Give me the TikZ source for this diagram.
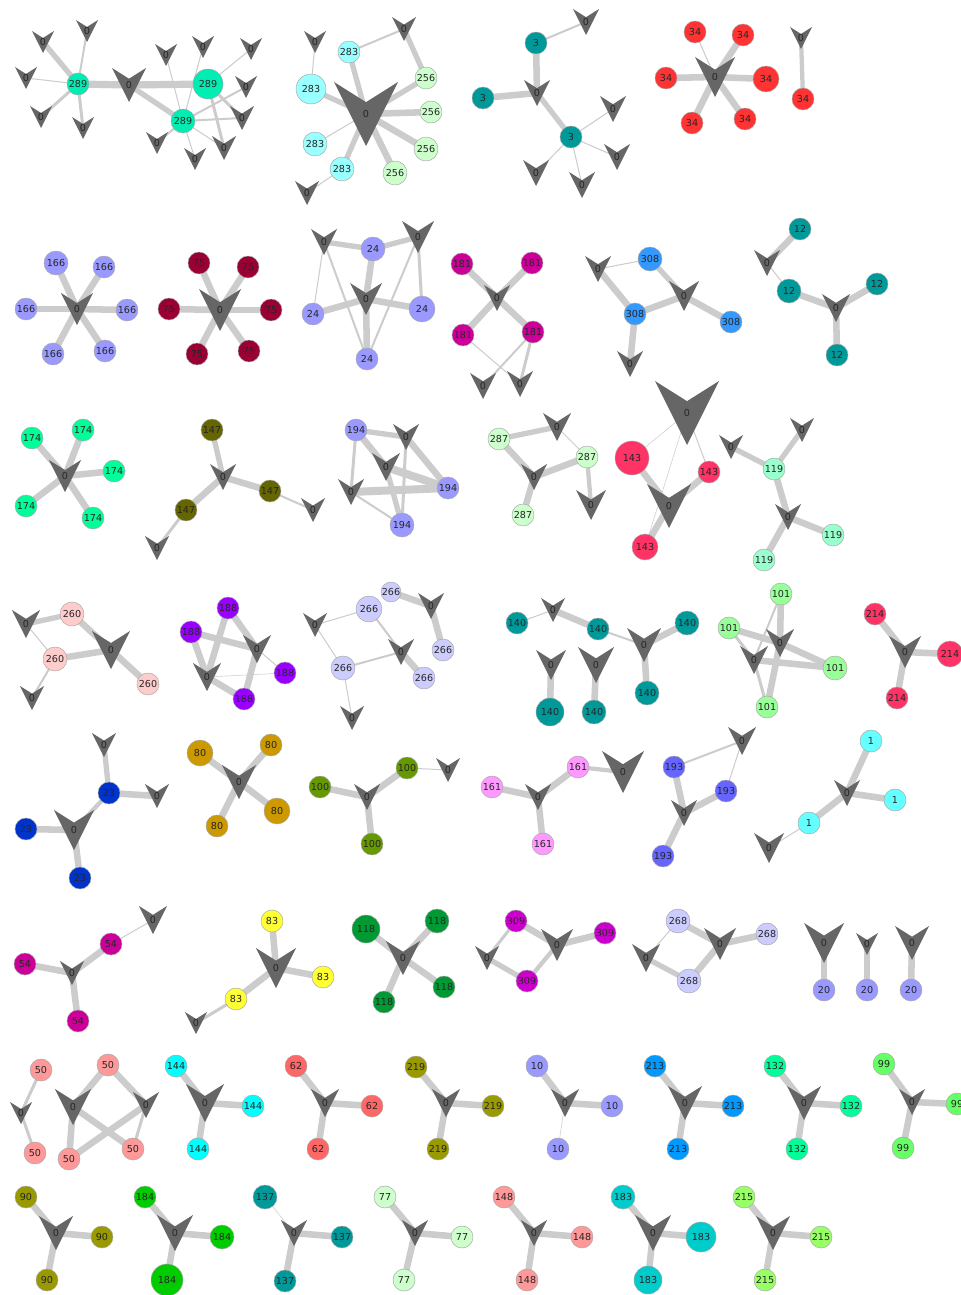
\documentclass[tikz,border=0pt]{standalone}
\usepackage{fontspec}
\setmainfont{DejaVu Sans}
\pgfdeclarelayer{bg}
\pgfsetlayers{bg,main}
\definecolor{vgray}{HTML}{666666}
\definecolor{egray}{HTML}{CCCCCC}
\definecolor{k289}{HTML}{00EEB4}
\definecolor{k283}{HTML}{99FFFF}
\definecolor{k256}{HTML}{CCFFCC}
\definecolor{k3}{HTML}{009999}
\definecolor{k34}{HTML}{FF3333}
\definecolor{k166}{HTML}{9999FF}
\definecolor{k75}{HTML}{990033}
\definecolor{k24}{HTML}{9999FF}
\definecolor{k181}{HTML}{CC0099}
\definecolor{k308}{HTML}{3399FF}
\definecolor{k12}{HTML}{009999}
\definecolor{k174}{HTML}{00FF99}
\definecolor{k147}{HTML}{666600}
\definecolor{k194}{HTML}{9999FF}
\definecolor{k287}{HTML}{CCFFCC}
\definecolor{k143}{HTML}{FF3366}
\definecolor{k119}{HTML}{99FFCC}
\definecolor{k260}{HTML}{FFCCCC}
\definecolor{k188}{HTML}{9900FF}
\definecolor{k266}{HTML}{CCCCFF}
\definecolor{k140}{HTML}{009999}
\definecolor{k101}{HTML}{99FF99}
\definecolor{k214}{HTML}{FF3366}
\definecolor{k23}{HTML}{0033CC}
\definecolor{k80}{HTML}{CC9900}
\definecolor{k100}{HTML}{669900}
\definecolor{k161}{HTML}{FF99FF}
\definecolor{k193}{HTML}{6666FF}
\definecolor{k1}{HTML}{66FFFF}
\definecolor{k54}{HTML}{CC0099}
\definecolor{k83}{HTML}{FFFF33}
\definecolor{k118}{HTML}{009933}
\definecolor{k309}{HTML}{CC00CC}
\definecolor{k268}{HTML}{CCCCFF}
\definecolor{k20}{HTML}{9999FF}
\definecolor{k50}{HTML}{FF9999}
\definecolor{k144}{HTML}{00FFFF}
\definecolor{k62}{HTML}{FF6666}
\definecolor{k219}{HTML}{999900}
\definecolor{k10}{HTML}{9999FF}
\definecolor{k213}{HTML}{0099FF}
\definecolor{k132}{HTML}{00FF99}
\definecolor{k99}{HTML}{66FF66}
\definecolor{k90}{HTML}{999900}
\definecolor{k184}{HTML}{00CC00}
\definecolor{k137}{HTML}{009999}
\definecolor{k77}{HTML}{CCFFCC}
\definecolor{k148}{HTML}{FF9999}
\definecolor{k183}{HTML}{00CCCC}
\definecolor{k215}{HTML}{99FF66}
\tikzset{
  vshape/.style={fill=vgray},
  lab/.style={font=\fontsize{7.2}{8}\selectfont, text=black!85},
  vlab/.style={lab, inner sep=0pt},
  cn/.style={lab, circle, draw=black!35, line width=0.35pt, inner sep=0pt},
  ed/.style={draw=egray, line cap=butt},
  ew0/.style={ed, line width=0.4pt},
  ew1/.style={ed, line width=0.75pt},
  ew2/.style={ed, line width=1.5pt},
  ew3/.style={ed, line width=2.25pt},
  ew4/.style={ed, line width=3.2pt},
  ew5/.style={ed, line width=4pt},
  ew6/.style={ed, line width=4.9pt},
  ew7/.style={ed, line width=5.4pt},
  ew8/.style={ed, line width=6pt},
}
% V-shaped node: name, x, y, half size
\newcommand\vtx[4]{\fill[vshape] (#2,#3) ++(-#4,-#4) -- ++(#4,0.63*#4) -- ++(#4,-0.63*#4) -- ++(-#4,2*#4) -- cycle;
  \node[vlab] (#1) at (#2,#3) {0};}
% circle node: name, x, y, radius, label
\newcommand\cnd[5]{\node[cn, fill=k#5, minimum size=#4*1.5pt] (#1) at (#2,#3) {#5};}
% edge: style, a, b
\newcommand\edg[3]{\draw[#1] (#2.center) -- (#3.center);}
\begin{document}
\begin{tikzpicture}[x=0.75pt,y=-0.75pt]
\begin{pgfonlayer}{bg}
\fill[white] (0,0) rectangle (960,1295);
\end{pgfonlayer}
\useasboundingbox (0,0) rectangle (960,1295);
% ---- component 289
\cnd{a1}{78}{84}{11}{289}
\vtx{a0}{129}{85}{17}
\cnd{a2}{208}{84}{15}{289}
\cnd{a3}{183}{121}{12}{289}
\vtx{a4}{43}{42}{11}
\vtx{a5}{87}{31}{11}
\vtx{a6}{26}{78}{11}
\vtx{a7}{41}{117}{11}
\vtx{a8}{83}{128}{11}
\vtx{a9}{166}{55}{11}
\vtx{a10}{203}{47}{11}
\vtx{a11}{251}{49}{11}
\vtx{a12}{246}{87}{11}
\vtx{a13}{242}{118}{12}
\vtx{a14}{224}{148}{12}
\vtx{a15}{195}{159}{11}
\vtx{a16}{157}{143}{11}
\begin{pgfonlayer}{bg}
\edg{ew7}{a1}{a0}\edg{ew7}{a0}{a2}\edg{ew5}{a0}{a3}
\edg{ew5}{a1}{a4}\edg{ew2}{a1}{a5}\edg{ew1}{a1}{a6}\edg{ew3}{a1}{a7}\edg{ew3}{a1}{a8}
\edg{ew1}{a2}{a11}\edg{ew3}{a2}{a14}\edg{ew3}{a2}{a13}
\edg{ew1}{a3}{a9}\edg{ew1}{a3}{a10}\edg{ew2}{a3}{a12}\edg{ew2}{a3}{a13}
\edg{ew2}{a3}{a16}\edg{ew1}{a3}{a15}\edg{ew1}{a3}{a14}
\end{pgfonlayer}
% ---- component 283/256
\vtx{b0}{366}{114}{32}
\cnd{b1}{349}{52}{11}{283}
\cnd{b2}{311}{89}{15}{283}
\cnd{b3}{315}{144}{12}{283}
\cnd{b4}{342}{169}{12}{283}
\cnd{b5}{426}{78}{11}{256}
\cnd{b6}{431}{112}{11}{256}
\cnd{b7}{426}{149}{12}{256}
\cnd{b8}{395}{173}{12}{256}
\vtx{b9}{315}{42}{11}
\vtx{b10}{404}{29}{12}
\vtx{b11}{307}{193}{12}
\begin{pgfonlayer}{bg}
\edg{ew5}{b1}{b0}\edg{ew5}{b2}{b0}\edg{ew1}{b3}{b0}\edg{ew5}{b4}{b0}
\edg{ew5}{b5}{b0}\edg{ew6}{b6}{b0}\edg{ew6}{b7}{b0}\edg{ew6}{b8}{b0}
\edg{ew1}{b2}{b9}\edg{ew2}{b1}{b10}\edg{ew5}{b5}{b10}\edg{ew1}{b4}{b11}
\end{pgfonlayer}
% ---- component 3
\cnd{c1}{536}{43}{11}{3}
\cnd{c2}{483}{98}{11}{3}
\cnd{c3}{571}{137}{11}{3}
\vtx{c0}{537}{93}{13}
\vtx{c4}{586}{22}{13}
\vtx{c5}{613}{109}{13}
\vtx{c6}{617}{157}{13}
\vtx{c7}{536}{173}{13}
\vtx{c8}{582}{185}{13}
\begin{pgfonlayer}{bg}
\edg{ew6}{c1}{c0}\edg{ew6}{c2}{c0}\edg{ew5}{c3}{c0}\edg{ew2}{c1}{c4}
\edg{ew1}{c3}{c5}\edg{ew1}{c3}{c6}\edg{ew1}{c3}{c7}\edg{ew1}{c3}{c8}
\end{pgfonlayer}
% ---- component 34
\vtx{d0}{715}{77}{20}
\cnd{d1}{695}{32}{11}{34}
\cnd{d2}{743}{35}{11}{34}
\cnd{d3}{666}{78}{11}{34}
\cnd{d4}{766}{79}{13}{34}
\cnd{d5}{692}{123}{11}{34}
\cnd{d6}{745}{119}{11}{34}
\vtx{d7}{801}{38}{11}
\cnd{d8}{803}{99}{11}{34}
\begin{pgfonlayer}{bg}
\edg{ew1}{d1}{d0}\edg{ew6}{d2}{d0}\edg{ew6}{d3}{d0}\edg{ew6}{d4}{d0}
\edg{ew6}{d5}{d0}\edg{ew6}{d6}{d0}\edg{ew4}{d7}{d8}
\end{pgfonlayer}
% ---- component 166
\vtx{e0}{77}{309}{16}
\cnd{e1}{56}{263}{12}{166}
\cnd{e2}{104}{267}{11}{166}
\cnd{e3}{26}{309}{11}{166}
\cnd{e4}{127}{310}{11}{166}
\cnd{e5}{53}{354}{11}{166}
\cnd{e6}{105}{351}{11}{166}
\begin{pgfonlayer}{bg}
\edg{ew6}{e1}{e0}\edg{ew6}{e2}{e0}\edg{ew6}{e3}{e0}\edg{ew6}{e4}{e0}\edg{ew6}{e5}{e0}\edg{ew6}{e6}{e0}
\end{pgfonlayer}
% ---- component 75
\vtx{f0}{220}{310}{21}
\cnd{f1}{199}{263}{11}{75}
\cnd{f2}{248}{267}{11}{75}
\cnd{f3}{169}{309}{11}{75}
\cnd{f4}{271}{310}{11}{75}
\cnd{f5}{197}{354}{11}{75}
\cnd{f6}{249}{351}{11}{75}
\begin{pgfonlayer}{bg}
\edg{ew6}{f1}{f0}\edg{ew6}{f2}{f0}\edg{ew6}{f3}{f0}\edg{ew6}{f4}{f0}\edg{ew6}{f5}{f0}\edg{ew6}{f6}{f0}
\end{pgfonlayer}
% ---- component 24
\vtx{g0}{366}{299}{16}
\vtx{g1}{324}{242}{13}
\vtx{g2}{418}{237}{16}
\cnd{g3}{373}{249}{12}{24}
\cnd{g4}{313}{314}{11}{24}
\cnd{g5}{422}{309}{13}{24}
\cnd{g6}{367}{359}{11}{24}
\begin{pgfonlayer}{bg}
\edg{ew5}{g1}{g3}\edg{ew5}{g3}{g2}\edg{ew6}{g3}{g0}\edg{ew6}{g4}{g0}\edg{ew6}{g5}{g0}\edg{ew6}{g6}{g0}
\edg{ew1}{g1}{g4}\edg{ew2}{g1}{g6}\edg{ew2}{g2}{g6}\edg{ew3}{g2}{g5}
\end{pgfonlayer}
% ---- component 181
\vtx{h0}{497}{298}{13}
\cnd{h1}{462}{264}{11}{181}
\cnd{h2}{532}{263}{11}{181}
\cnd{h3}{463}{335}{11}{181}
\cnd{h4}{533}{332}{11}{181}
\vtx{h5}{483}{386}{13}
\vtx{h6}{520}{384}{13}
\begin{pgfonlayer}{bg}
\edg{ew6}{h1}{h0}\edg{ew6}{h2}{h0}\edg{ew6}{h3}{h0}\edg{ew6}{h4}{h0}
\edg{ew1}{h3}{h6}\edg{ew2}{h4}{h5}\edg{ew3}{h4}{h6}
\end{pgfonlayer}
% ---- component 308
\cnd{i1}{650}{259}{12}{308}
\cnd{i2}{635}{314}{11}{308}
\cnd{i3}{731}{322}{11}{308}
\vtx{i4}{598}{269}{13}
\vtx{i0}{684}{296}{15}
\vtx{i5}{630}{364}{13}
\begin{pgfonlayer}{bg}
\edg{ew1}{i4}{i1}\edg{ew6}{i4}{i2}\edg{ew5}{i1}{i0}\edg{ew6}{i2}{i0}\edg{ew6}{i0}{i3}\edg{ew6}{i2}{i5}
\end{pgfonlayer}
% ---- component 12
\cnd{j1}{800}{229}{11}{12}
\vtx{j4}{767}{263}{13}
\cnd{j2}{789}{291}{12}{12}
\vtx{j0}{836}{308}{14}
\cnd{j3}{877}{284}{11}{12}
\cnd{j5}{837}{355}{11}{12}
\begin{pgfonlayer}{bg}
\edg{ew6}{j1}{j4}\edg{ew1}{j4}{j2}\edg{ew6}{j2}{j0}\edg{ew6}{j3}{j0}\edg{ew6}{j5}{j0}
\end{pgfonlayer}
% ---- component 174
\vtx{k0}{65}{476}{16}
\cnd{k1}{32}{438}{11}{174}
\cnd{k2}{83}{430}{11}{174}
\cnd{k3}{114}{471}{11}{174}
\cnd{k4}{26}{506}{11}{174}
\cnd{k5}{93}{518}{11}{174}
\begin{pgfonlayer}{bg}
\edg{ew6}{k1}{k0}\edg{ew6}{k2}{k0}\edg{ew6}{k3}{k0}\edg{ew6}{k4}{k0}\edg{ew6}{k5}{k0}
\end{pgfonlayer}
% ---- component 147
\cnd{l1}{212}{430}{11}{147}
\vtx{l0}{223}{477}{13}
\cnd{l2}{270}{491}{11}{147}
\cnd{l3}{186}{510}{11}{147}
\vtx{l4}{313}{510}{12}
\vtx{l5}{157}{548}{12}
\begin{pgfonlayer}{bg}
\edg{ew5}{l1}{l0}\edg{ew6}{l2}{l0}\edg{ew6}{l3}{l0}\edg{ew2}{l2}{l4}\edg{ew3}{l3}{l5}
\end{pgfonlayer}
% ---- component 194
\cnd{m1}{356}{430}{11}{194}
\cnd{m2}{448}{488}{11}{194}
\cnd{m3}{402}{525}{12}{194}
\vtx{m4}{406}{437}{13}
\vtx{m5}{386}{467}{14}
\vtx{m6}{351}{492}{13}
\begin{pgfonlayer}{bg}
\edg{ew5}{m1}{m4}\edg{ew6}{m1}{m5}\edg{ew3}{m1}{m6}\edg{ew6}{m4}{m2}\edg{ew3}{m4}{m3}
\edg{ew8}{m5}{m2}\edg{ew5}{m5}{m3}\edg{ew8}{m6}{m2}\edg{ew2}{m6}{m3}
\end{pgfonlayer}
% ---- component 287
\cnd{n1}{499}{439}{11}{287}
\vtx{n4}{557}{427}{14}
\cnd{n2}{587}{457}{11}{287}
\vtx{n0}{534}{477}{13}
\cnd{n3}{523}{515}{11}{287}
\vtx{n5}{591}{505}{15}
\begin{pgfonlayer}{bg}
\edg{ew5}{n1}{n4}\edg{ew1}{n4}{n2}\edg{ew6}{n1}{n0}\edg{ew6}{n0}{n2}\edg{ew6}{n0}{n3}\edg{ew4}{n2}{n5}
\end{pgfonlayer}
% ---- component 143
\vtx{o4}{687}{413}{32}
\cnd{o1}{632}{458}{17}{143}
\cnd{o2}{709}{472}{11}{143}
\vtx{o0}{669}{506}{22}
\cnd{o3}{645}{547}{13}{143}
\begin{pgfonlayer}{bg}
\edg{ew0}{o4}{o1}\edg{ew1}{o4}{o2}\edg{ew0}{o4}{o3}\edg{ew6}{o1}{o0}\edg{ew6}{o2}{o0}\edg{ew6}{o3}{o0}
\end{pgfonlayer}
% ---- component 119
\vtx{p4}{731}{447}{12}
\vtx{p5}{802}{430}{12}
\cnd{p1}{774}{469}{11}{119}
\vtx{p0}{788}{517}{13}
\cnd{p2}{833}{535}{11}{119}
\cnd{p3}{764}{560}{11}{119}
\begin{pgfonlayer}{bg}
\edg{ew5}{p4}{p1}\edg{ew5}{p5}{p1}\edg{ew6}{p1}{p0}\edg{ew6}{p0}{p2}\edg{ew6}{p0}{p3}
\end{pgfonlayer}
% ---- component 260
\vtx{q4}{26}{624}{14}
\cnd{q1}{72}{614}{12}{260}
\vtx{q0}{111}{650}{19}
\cnd{q2}{55}{659}{12}{260}
\cnd{q3}{148}{684}{11}{260}
\vtx{q5}{32}{698}{12}
\begin{pgfonlayer}{bg}
\edg{ew5}{q4}{q1}\edg{ew6}{q1}{q0}\edg{ew6}{q0}{q2}\edg{ew6}{q0}{q3}\edg{ew1}{q4}{q2}\edg{ew2}{q2}{q5}
\end{pgfonlayer}
% ---- component 188
\cnd{r1}{228}{608}{11}{188}
\cnd{r2}{191}{632}{11}{188}
\vtx{r5}{257}{649}{14}
\vtx{r6}{207}{677}{14}
\cnd{r3}{285}{673}{11}{188}
\cnd{r4}{244}{699}{11}{188}
\begin{pgfonlayer}{bg}
\edg{ew6}{r1}{r6}\edg{ew6}{r1}{r5}\edg{ew6}{r2}{r5}\edg{ew6}{r2}{r6}
\edg{ew1}{r5}{r3}\edg{ew6}{r5}{r4}\edg{ew0}{r6}{r3}\edg{ew6}{r6}{r4}
\end{pgfonlayer}
% ---- component 266
\cnd{s1}{391}{592}{10}{266}
\vtx{s6}{431}{606}{13}
\cnd{s2}{369}{609}{13}{266}
\vtx{s7}{315}{625}{12}
\vtx{s0}{401}{652}{13}
\cnd{s3}{443}{650}{11}{266}
\cnd{s4}{343}{668}{12}{266}
\cnd{s5}{424}{678}{11}{266}
\vtx{s8}{352}{718}{12}
\begin{pgfonlayer}{bg}
\edg{ew6}{s1}{s6}\edg{ew6}{s6}{s3}\edg{ew1}{s7}{s2}\edg{ew2}{s2}{s0}
\edg{ew1}{s7}{s4}\edg{ew2}{s4}{s0}\edg{ew6}{s0}{s5}\edg{ew1}{s4}{s8}
\end{pgfonlayer}
% ---- component 140
\cnd{t1}{517}{623}{11}{140}
\vtx{t6}{553}{610}{12}
\cnd{t2}{598}{629}{11}{140}
\vtx{t0}{644}{645}{17}
\cnd{t3}{687}{623}{12}{140}
\cnd{t4}{647}{693}{12}{140}
\vtx{t7}{551}{665}{15}
\cnd{t5}{550}{712}{14}{140}
\vtx{t8}{596}{665}{18}
\cnd{t9}{594}{712}{12}{140}
\begin{pgfonlayer}{bg}
\edg{ew1}{t1}{t6}\edg{ew6}{t6}{t2}\edg{ew2}{t2}{t0}\edg{ew6}{t0}{t3}\edg{ew6}{t0}{t4}
\edg{ew6}{t7}{t5}\edg{ew6}{t8}{t9}
\end{pgfonlayer}
% ---- component 101
\cnd{u1}{781}{594}{11}{101}
\cnd{u2}{729}{628}{11}{101}
\vtx{u5}{780}{643}{14}
\vtx{u6}{754}{660}{14}
\cnd{u3}{835}{668}{12}{101}
\cnd{u4}{767}{707}{11}{101}
\begin{pgfonlayer}{bg}
\edg{ew6}{u1}{u5}\edg{ew2}{u1}{u6}\edg{ew6}{u2}{u5}\edg{ew3}{u2}{u6}
\edg{ew6}{u5}{u3}\edg{ew6}{u6}{u3}\edg{ew6}{u5}{u4}\edg{ew3}{u6}{u4}
\end{pgfonlayer}
% ---- component 214
\cnd{v1}{875}{614}{11}{214}
\vtx{v0}{905}{652}{16}
\cnd{v2}{950}{654}{13}{214}
\cnd{v3}{897}{698}{11}{214}
\begin{pgfonlayer}{bg}
\edg{ew6}{v1}{v0}\edg{ew6}{v2}{v0}\edg{ew6}{v3}{v0}
\end{pgfonlayer}
% ---- component 23
\vtx{w4}{104}{745}{12}
\cnd{w1}{109}{793}{11}{23}
\vtx{w5}{157}{796}{12}
\vtx{w0}{74}{830}{20}
\cnd{w2}{26}{829}{11}{23}
\cnd{w3}{80}{878}{11}{23}
\begin{pgfonlayer}{bg}
\edg{ew5}{w4}{w1}\edg{ew6}{w1}{w5}\edg{ew4}{w1}{w0}\edg{ew6}{w2}{w0}\edg{ew6}{w3}{w0}
\end{pgfonlayer}
% ---- component 80
\vtx{x0}{239}{782}{17}
\cnd{x1}{200}{753}{13}{80}
\cnd{x2}{271}{745}{11}{80}
\cnd{x3}{277}{811}{13}{80}
\cnd{x4}{217}{826}{11}{80}
\begin{pgfonlayer}{bg}
\edg{ew6}{x1}{x0}\edg{ew6}{x2}{x0}\edg{ew6}{x3}{x0}\edg{ew6}{x4}{x0}
\end{pgfonlayer}
% ---- component 100
\cnd{y1}{320}{787}{11}{100}
\vtx{y0}{367}{797}{13}
\cnd{y2}{407}{768}{11}{100}
\vtx{y4}{448}{770}{12}
\cnd{y3}{372}{844}{11}{100}
\begin{pgfonlayer}{bg}
\edg{ew6}{y1}{y0}\edg{ew6}{y2}{y0}\edg{ew6}{y3}{y0}\edg{ew1}{y2}{y4}
\end{pgfonlayer}
% ---- component 161
\cnd{z1}{492}{787}{11}{161}
\vtx{z0}{538}{797}{13}
\cnd{z2}{578}{767}{11}{161}
\vtx{z4}{623}{772}{21}
\cnd{z3}{543}{844}{11}{161}
\begin{pgfonlayer}{bg}
\edg{ew6}{z1}{z0}\edg{ew6}{z2}{z0}\edg{ew6}{z3}{z0}\edg{ew4}{z2}{z4}
\end{pgfonlayer}
% ---- component 193
\vtx{A4}{742}{741}{14}
\cnd{A1}{674}{767}{11}{193}
\cnd{A2}{726}{791}{11}{193}
\vtx{A0}{684}{813}{13}
\cnd{A3}{663}{856}{11}{193}
\begin{pgfonlayer}{bg}
\edg{ew2}{A1}{A4}\edg{ew1}{A4}{A2}\edg{ew6}{A1}{A0}\edg{ew6}{A2}{A0}\edg{ew6}{A3}{A0}
\end{pgfonlayer}
% ---- component 1
\cnd{B1}{871}{741}{11}{1}
\vtx{B0}{847}{793}{13}
\cnd{B2}{895}{800}{11}{1}
\cnd{B3}{809}{823}{11}{1}
\vtx{B4}{769}{848}{15}
\begin{pgfonlayer}{bg}
\edg{ew6}{B1}{B0}\edg{ew6}{B2}{B0}\edg{ew6}{B3}{B0}\edg{ew1}{B3}{B4}
\end{pgfonlayer}
% ---- component 54
\vtx{C4}{153}{920}{14}
\cnd{C1}{111}{944}{11}{54}
\cnd{C2}{25}{964}{11}{54}
\vtx{C0}{72}{973}{12}
\cnd{C3}{78}{1021}{11}{54}
\begin{pgfonlayer}{bg}
\edg{ew1}{C4}{C1}\edg{ew6}{C1}{C0}\edg{ew6}{C2}{C0}\edg{ew6}{C3}{C0}
\end{pgfonlayer}
% ---- component 83
\cnd{D1}{272}{921}{11}{83}
\vtx{D0}{276}{968}{20}
\cnd{D2}{323}{977}{11}{83}
\cnd{D3}{236}{999}{11}{83}
\vtx{D4}{196}{1023}{11}
\begin{pgfonlayer}{bg}
\edg{ew6}{D1}{D0}\edg{ew6}{D2}{D0}\edg{ew6}{D3}{D0}\edg{ew3}{D3}{D4}
\end{pgfonlayer}
% ---- component 118
\cnd{E1}{366}{929}{14}{118}
\cnd{E2}{437}{921}{12}{118}
\vtx{E0}{403}{958}{17}
\cnd{E3}{444}{987}{11}{118}
\cnd{E4}{384}{1002}{11}{118}
\begin{pgfonlayer}{bg}
\edg{ew6}{E1}{E0}\edg{ew6}{E2}{E0}\edg{ew6}{E3}{E0}\edg{ew6}{E4}{E0}
\end{pgfonlayer}
% ---- component 309
\cnd{F1}{516}{921}{11}{309}
\cnd{F2}{605}{933}{11}{309}
\vtx{F0}{557}{945}{16}
\vtx{F4}{487}{958}{12}
\cnd{F3}{527}{981}{11}{309}
\begin{pgfonlayer}{bg}
\edg{ew6}{F1}{F0}\edg{ew6}{F2}{F0}\edg{ew4}{F3}{F0}\edg{ew3}{F1}{F4}\edg{ew5}{F4}{F3}
\end{pgfonlayer}
% ---- component 268
\cnd{G1}{678}{921}{12}{268}
\cnd{G2}{767}{934}{11}{268}
\vtx{G0}{720}{944}{16}
\vtx{G4}{646}{958}{14}
\cnd{G3}{689}{981}{12}{268}
\begin{pgfonlayer}{bg}
\edg{ew6}{G1}{G0}\edg{ew6}{G2}{G0}\edg{ew6}{G3}{G0}\edg{ew1}{G1}{G4}\edg{ew5}{G4}{G3}
\end{pgfonlayer}
% ---- components 20
\vtx{H0}{824}{943}{20}
\cnd{H1}{824}{990}{11}{20}
\vtx{H2}{867}{944}{11}
\cnd{H3}{867}{990}{11}{20}
\vtx{H4}{912}{943}{17}
\cnd{H5}{911}{990}{11}{20}
\begin{pgfonlayer}{bg}
\edg{ew6}{H0}{H1}\edg{ew6}{H2}{H3}\edg{ew6}{H4}{H5}
\end{pgfonlayer}
% ---- component 50
\cnd{I1}{41}{1070}{11}{50}
\vtx{I5}{21}{1113}{11}
\cnd{I2}{35}{1153}{11}{50}
\cnd{I3}{108}{1065}{11}{50}
\vtx{I6}{73}{1107}{18}
\vtx{I7}{146}{1105}{13}
\cnd{I4}{69}{1159}{11}{50}
\cnd{I8}{133}{1149}{11}{50}
\begin{pgfonlayer}{bg}
\edg{ew3}{I1}{I5}\edg{ew3}{I5}{I2}\edg{ew6}{I3}{I6}\edg{ew6}{I3}{I7}
\edg{ew6}{I6}{I4}\edg{ew6}{I6}{I8}\edg{ew6}{I7}{I4}\edg{ew3}{I7}{I8}
\end{pgfonlayer}
% ---- row 7 triples
\cnd{J1}{176}{1066}{11}{144}\vtx{J0}{205}{1103}{19}\cnd{J2}{253}{1106}{11}{144}\cnd{J3}{198}{1149}{11}{144}
\cnd{K1}{296}{1066}{11}{62}\vtx{K0}{325}{1103}{14}\cnd{K2}{372}{1106}{11}{62}\cnd{K3}{318}{1149}{11}{62}
\cnd{L1}{416}{1067}{11}{219}\vtx{L0}{446}{1103}{14}\cnd{L2}{493}{1106}{11}{219}\cnd{L3}{438}{1149}{11}{219}
\cnd{M1}{537}{1066}{11}{10}\vtx{M0}{565}{1103}{14}\cnd{M2}{612}{1106}{11}{10}\cnd{M3}{558}{1149}{11}{10}
\cnd{N1}{655}{1066}{11}{213}\vtx{N0}{685}{1103}{17}\cnd{N2}{733}{1106}{11}{213}\cnd{N3}{678}{1149}{11}{213}
\cnd{O1}{775}{1066}{11}{132}\vtx{O0}{804}{1103}{17}\cnd{O2}{851}{1106}{11}{132}\cnd{O3}{797}{1149}{11}{132}
\cnd{P1}{884}{1064}{11}{99}\vtx{P0}{912}{1102}{13}\cnd{P2}{957}{1104}{11}{99}\cnd{P3}{903}{1148}{11}{99}
\begin{pgfonlayer}{bg}
\edg{ew6}{J1}{J0}\edg{ew6}{J2}{J0}\edg{ew6}{J3}{J0}
\edg{ew6}{K1}{K0}\edg{ew6}{K2}{K0}\edg{ew6}{K3}{K0}
\edg{ew6}{L1}{L0}\edg{ew6}{L2}{L0}\edg{ew6}{L3}{L0}
\edg{ew6}{M1}{M0}\edg{ew6}{M2}{M0}\edg{ew0}{M3}{M0}
\edg{ew6}{N1}{N0}\edg{ew6}{N2}{N0}\edg{ew6}{N3}{N0}
\edg{ew6}{O1}{O0}\edg{ew6}{O2}{O0}\edg{ew6}{O3}{O0}
\edg{ew6}{P1}{P0}\edg{ew6}{P2}{P0}\edg{ew6}{P3}{P0}
\end{pgfonlayer}
% ---- row 8 triples
\cnd{Q1}{26}{1197}{11}{90}\vtx{Q0}{56}{1233}{17}\cnd{Q2}{102}{1237}{11}{90}\cnd{Q3}{47}{1280}{11}{90}
\cnd{R1}{145}{1197}{11}{184}\vtx{R0}{175}{1233}{18}\cnd{R2}{222}{1237}{12}{184}\cnd{R3}{167}{1280}{16}{184}
\cnd{S1}{265}{1197}{12}{137}\vtx{S0}{294}{1233}{13}\cnd{S2}{342}{1237}{11}{137}\cnd{S3}{285}{1281}{11}{137}
\cnd{T1}{385}{1197}{11}{77}\vtx{T0}{415}{1233}{13}\cnd{T2}{462}{1237}{11}{77}\cnd{T3}{404}{1280}{11}{77}
\cnd{U1}{504}{1197}{11}{148}\vtx{U0}{534}{1233}{13}\cnd{U2}{582}{1237}{11}{148}\cnd{U3}{527}{1280}{11}{148}
\cnd{W1}{623}{1197}{12}{183}\vtx{W0}{653}{1233}{18}\cnd{W2}{701}{1237}{15}{183}\cnd{W3}{648}{1280}{14}{183}
\cnd{X1}{744}{1197}{11}{215}\vtx{X0}{773}{1233}{17}\cnd{X2}{821}{1237}{11}{215}\cnd{X3}{765}{1280}{11}{215}
\begin{pgfonlayer}{bg}
\edg{ew6}{Q1}{Q0}\edg{ew6}{Q2}{Q0}\edg{ew6}{Q3}{Q0}
\edg{ew6}{R1}{R0}\edg{ew6}{R2}{R0}\edg{ew6}{R3}{R0}
\edg{ew0}{S1}{S0}\edg{ew6}{S2}{S0}\edg{ew6}{S3}{S0}
\edg{ew6}{T1}{T0}\edg{ew6}{T2}{T0}\edg{ew6}{T3}{T0}
\edg{ew6}{U1}{U0}\edg{ew6}{U2}{U0}\edg{ew6}{U3}{U0}
\edg{ew6}{W1}{W0}\edg{ew6}{W2}{W0}\edg{ew6}{W3}{W0}
\edg{ew6}{X1}{X0}\edg{ew6}{X2}{X0}\edg{ew6}{X3}{X0}
\end{pgfonlayer}
\end{tikzpicture}
\end{document}
